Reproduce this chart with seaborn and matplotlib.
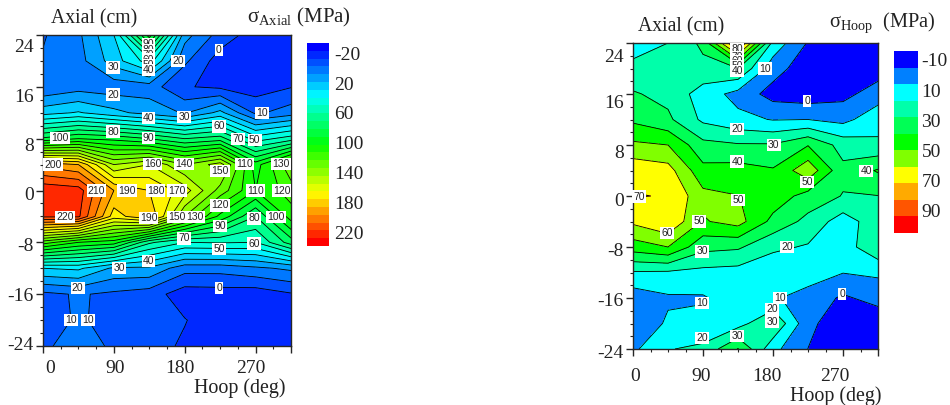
import numpy as np
import matplotlib
matplotlib.use('Agg')
import matplotlib.pyplot as plt
from matplotlib.transforms import ScaledTranslation
import seaborn as sns

hoop_deg = [0, 45, 90, 135, 180, 225, 270, 315]
axial_cm = [24, 20, 16, 12, 8, 4, 0, -4, -8, -12, -16, -20, -24]

# one row per axial position, top of the chart first
sigma_axial = [
    [9, 18, 40, 105, 24, 6, -5, -6],
    [11, 16, 35, 55, 12, -5, -8, -8],
    [11, 15.6, 14, 15, 0.8, -2, -5, -0.5],
    [36, 41, 33, 26, 19, 33, 8, 15],
    [92, 100, 97, 90, 80, 85, 55, 65],
    [197, 190, 150, 160, 140, 155, 105, 138],
    [228, 225, 190, 180, 165, 136, 110, 125],
    [222, 222, 175, 190, 140, 107, 80, 115],
    [125, 110, 105, 72, 60, 61, 60, 85],
    [40, 42, 28, 28, 14, 14, 18, 22],
    [7.5, 11, 8, 5, -5.6, -5, -6, -1],
    [7, 10.8, 7.9, 5, 0.5, -6, -7, -7],
    [9.2, 12, 9.3, 4, -1.5, -7, -8, -8],
]
sigma_hoop = [
    [15, 20, 32.4, 85, 16.6, -0.8, -6, -8],
    [23, 24, 27, 30, 4.4, -6, -8, -5],
    [31, 27, 15.5, 6.5, -4, -6, -3, 5],
    [38, 32, 18, 12.7, 9.5, 10, 7, 16.5],
    [52, 50, 33, 31, 31, 39.5, 26, 21.7],
    [67, 64, 43, 44, 41, 57, 32.5, 41],
    [70.5, 69.5, 53, 50.2, 46, 36, 29.5, 29.8],
    [62, 69, 49, 54, 37, 27, 15, 26],
    [45, 50, 33, 31.5, 22, 19, 15, 28],
    [19, 18.5, 17, 16, 13, 14, 10.3, 11.6],
    [4, 8.6, 9, 15, 11, 6.8, -1.7, 4],
    [2, 11.5, 13, 16, 29.5, 3, -7.5, -8],
    [8, 19.5, 22, 40.5, 13, -0.1, -8, -8],
]

axial_levels = list(range(-20, 250, 10))
hoop_levels = list(range(-10, 110, 10))
hoop_colors = ['#0000ff', '#0080ff', '#00ffff', '#00ffaa', '#00ff55', '#00ff00',
               '#80ff00', '#ffff00', '#ffaa00', '#ff5500', '#ff0000']

# contour labels as printed on the original: hoop, axial, text
axial_labels = [
    (134, 22.6, '90'), (134, 21.7, '80'), (134, 20.9, '70'), (134, 20.2, '60'),
    (134, 19.4, '50'), (134, 18.6, '40'), (89, 19, '30'), (172, 20, '20'),
    (223, 21.7, '0'), (89, 14.8, '20'), (278, 12, '10'), (134, 11.2, '40'),
    (179, 11.3, '30'), (224, 9.9, '60'), (22, 8.1, '100'), (89, 9.1, '80'),
    (134, 8.1, '90'), (248, 8, '70'), (269, 7.8, '50'), (13, 4, '200'),
    (139, 4.1, '160'), (179, 4.1, '140'), (256, 4.1, '110'), (302, 4.1, '130'),
    (225, 3, '150'), (68, 0, '210'), (107, 0, '190'), (143, 0, '180'),
    (170, 0, '170'), (270, 0, '110'), (303, 0, '120'), (28, -4.1, '220'),
    (134, -4.2, '190'), (170, -4.1, '150'), (193, -4.1, '130'), (225, -2.3, '120'),
    (268, -4.3, '80'), (296, -4.1, '100'), (225, -5.5, '90'), (179, -7.4, '70'),
    (268, -8.2, '60'), (224, -9, '50'), (134, -10.9, '40'), (97, -12, '30'),
    (44, -15, '20'), (224, -15, '0'), (36, -20, '10'), (57, -20, '10'),
]
hoop_labels = [
    (134, 23.1, '80'), (134, 21.8, '70'), (134, 21.1, '60'), (134, 20.4, '50'),
    (134, 19.6, '40'), (170, 20, '10'), (224, 14.9, '0'), (134, 10.5, '20'),
    (181, 8, '30'), (134, 5.4, '40'), (300, 3.9, '40'), (224, 2.2, '50'),
    (8, -0.1, '70'), (135, -0.6, '50'), (85, -4, '50'), (44, -5.8, '60'),
    (89, -8.7, '30'), (198, -8, '20'), (89, -16.8, '10'), (189, -16, '10'),
    (269, -15.4, '0'), (179, -17.8, '20'), (179, -19.8, '30'), (89, -22.3, '20'),
    (134, -22, '30'),
]

sns.set_style('ticks')
plt.rcParams['font.family'] = ['Liberation Serif', 'DejaVu Sans']
plt.rcParams['mathtext.default'] = 'regular'

W, H = 950, 405
fig = plt.figure(figsize=(W / 100, H / 100), dpi=100)
ink = '#222222'


def pixel_axes(left, top, right, bottom):
    return fig.add_axes([left / W, 1 - bottom / H, (right - left) / W, (bottom - top) / H])


def nudge(labels, dx, dy):
    # the original tick labels do not sit on their ticks
    for lab, x, y in zip(labels, dx, dy):
        lab.set_transform(lab.get_transform() + ScaledTranslation(x / 100, -y / 100, fig.dpi_scale_trans))


def stress_map(box, cbar_box, values, levels, colors, labels, xshift, yshift, xpad):
    ax = pixel_axes(*box)
    cf = ax.contourf(hoop_deg, axial_cm, np.array(values), levels=levels, colors=colors)
    ax.contour(hoop_deg, axial_cm, np.array(values), levels=levels,
               colors='black', linewidths=0.6, linestyles='solid')
    for x, y, txt in labels:
        ax.text(x, y, txt, fontsize=7.5, family='Liberation Sans', color=ink, ha='center', va='center',
                bbox=dict(facecolor='white', edgecolor='none', pad=0.8), zorder=5)

    ax.set_xlim(0, 315)
    ax.set_ylim(-24, 24)
    ax.set_xticks([0, 90, 180, 270, 315], ['0', '90', '180', '270', ''])
    ax.set_xticks(np.arange(0, 316, 22.5), minor=True)
    ax.set_yticks([24, 16, 8, 0, -8, -16, -24], ['24', '16', '8', '0', '-8', '-16', '-24'])
    ax.set_yticks(np.arange(-24, 25, 2), minor=True)
    ax.tick_params(axis='x', which='major', length=5, width=1, pad=xpad, labelsize=14, labelcolor=ink)
    ax.tick_params(axis='y', which='major', length=5, width=1, pad=1.5, labelsize=14, labelcolor=ink)
    ax.tick_params(which='minor', length=2.5, width=0.8)
    for spine in ax.spines.values():
        spine.set_linewidth(1)
    nudge(ax.get_xticklabels(), xshift, [0] * 5)
    nudge(ax.get_yticklabels(), [0] * 7, yshift)

    cax = pixel_axes(*cbar_box)
    cbar = fig.colorbar(cf, cax=cax)
    cbar.outline.set_visible(False)
    cax.invert_yaxis()
    return cax


cax = stress_map((43, 35, 291, 346), (307, 43, 329, 246), sigma_axial, axial_levels,
                 sns.blend_palette(['#0000ff', '#00ffff', '#00ff00', '#ffff00', '#ff0000'], 26),
                 axial_labels, [7, 1, -5, -5, 0], [10, 9, 6, 3.5, 2, 0, -3], 5)
cax.set_yticks([-20, 20, 60, 100, 140, 180, 220], ['-20', '20', '60', '100', '140', '180', '220'])
cax.tick_params(length=0, pad=3.5, labelsize=14, labelcolor=ink)
nudge(cax.get_yticklabels(), [0] * 7, [10, 9, 7, 6, 5, 3, 2])

cax = stress_map((633, 43, 878, 349), (894, 51, 918, 233), sigma_hoop, hoop_levels, hoop_colors,
                 hoop_labels, [2, -2, -6, -8, 0], [12, 8, 7, 4, 3, 1, 3], 9)
cax.set_yticks([-10, 10, 30, 50, 70, 90], ['-10', '10', '30', '50', '70', '90'])
cax.tick_params(length=0, pad=2.5, labelsize=14, labelcolor=ink)
nudge(cax.get_yticklabels(), [0] * 6, [9, 6, 3, 0, -3, -6])

heads = [
    (51, 19, 14.2, 'Axial (cm)'), (247, 17, 15, r'$σ_{Axial}$ (MPa)'), (194, 388, 14.4, 'Hoop (deg)'),
    (638, 27, 14.2, 'Axial (cm)'), (829, 23, 14.7, r'$σ_{Hoop}$  (MPa)'), (790, 396, 14.4, 'Hoop (deg)'),
]
for x, y, size, txt in heads:
    fig.text(x / W, 1 - y / H, txt, fontsize=size, color=ink, ha='left', va='center')

fig.savefig('out.png', dpi=100)
